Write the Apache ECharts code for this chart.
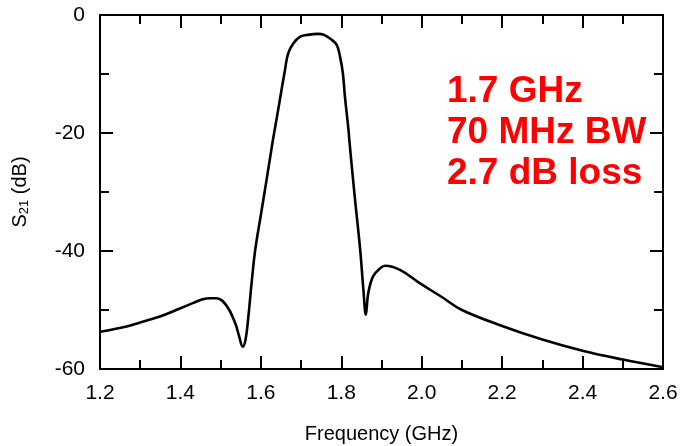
<!DOCTYPE html>
<html><head><meta charset="utf-8">
<script src="https://cdn.jsdelivr.net/npm/echarts@6/dist/echarts.min.js"></script>
<style>html,body{margin:0;padding:0;background:#fff}#c{width:683px;height:446px}</style>
</head><body><div id="c"></div>
<script>
const freq = [1.20,1.266,1.30,1.349,1.40,1.432,1.45,1.474,1.49,1.515,1.536,1.545,1.555,1.562,1.569,1.577,1.586,1.60,1.615,1.63,1.645,1.66,1.668,1.681,1.697,1.714,1.743,1.755,1.776,1.789,1.797,1.804,1.809,1.818,1.82,1.833,1.847,1.855,1.861,1.867,1.879,1.897,1.909,1.946,1.996,2.05,2.10,2.20,2.30,2.40,2.50,2.60];
const s21 = [-53.7,-52.8,-52.1,-51.1,-49.7,-48.8,-48.3,-48.0,-48.0,-49.3,-52.2,-54.2,-56.2,-55.0,-51.1,-45.4,-39.8,-33.9,-27.6,-21.2,-15.3,-9.3,-6.5,-4.8,-3.7,-3.4,-3.2,-3.3,-4.2,-5.1,-7.1,-9.9,-13.8,-19.5,-21.2,-30.5,-39.8,-46.6,-50.8,-47.2,-44.3,-42.9,-42.5,-43.2,-45.5,-47.8,-50.0,-52.7,-55.0,-56.9,-58.4,-59.7];
const xTicks = ['1.2','1.4','1.6','1.8','2.0','2.2','2.4','2.6'];
const yTicks = ['0','-20','-40','-60'];
const notes = ['1.7 GHz','70 MHz BW','2.7 dB loss'];

const chart = echarts.init(document.getElementById('c'));
const font = 'Liberation Sans, Arial, sans-serif';
const axisBase = {
  axisLine:{show:true,onZero:false,lineStyle:{color:'#000',width:2}},
  axisTick:{show:true,inside:true,length:13,lineStyle:{color:'#000',width:2}},
  minorTick:{show:true,splitNumber:2,length:9,lineStyle:{color:'#000',width:2}},
  splitLine:{show:false}
};
chart.setOption({
  animation:false,
  grid:{left:100,right:20,top:15,bottom:77,outerBoundsMode:'none',containLabel:false},
  xAxis:[
    Object.assign({type:'value',min:1.2,max:2.6,interval:0.2,position:'bottom',
      axisLabel:{color:'#000',fontSize:21,fontFamily:font,margin:14,
        formatter:v=>{const s=v.toFixed(1);return xTicks.includes(s)?s:'';}},
      name:'Frequency (GHz)',nameLocation:'middle',nameGap:55,
      nameTextStyle:{color:'#000',fontSize:20,fontFamily:font}},axisBase),
    Object.assign({type:'value',min:1.2,max:2.6,interval:0.2,position:'top',axisLabel:{show:false}},axisBase)
  ],
  yAxis:[
    Object.assign({type:'value',min:-60,max:0,interval:20,position:'left',
      axisLabel:{color:'#000',fontSize:21,fontFamily:font,margin:15,
        formatter:v=>{const s=String(Math.round(v));return yTicks.includes(s)?s:'';}},
      name:'{a|S}{b|21}{a| (dB)}',nameLocation:'middle',nameGap:69,
      nameTextStyle:{color:'#000',fontFamily:font,
        rich:{a:{fontSize:20,fontFamily:font,color:'#000'},b:{fontSize:13,fontFamily:font,color:'#000',verticalAlign:'bottom',padding:[8,0,0,0]}}}},axisBase),
    Object.assign({type:'value',min:-60,max:0,interval:20,position:'right',axisLabel:{show:false}},axisBase)
  ],
  series:[{type:'line',data:freq.map((f,i)=>[f,s21[i]]),xAxisIndex:0,yAxisIndex:0,
    showSymbol:false,smooth:0.4,lineStyle:{color:'#000',width:2.6}}],
  graphic:notes.map((t,i)=>({type:'text',left:447,top:73+i*41,
    style:{text:t,fill:'#ff0000',font:'bold 37px '+font}}))
});
</script></body></html>
